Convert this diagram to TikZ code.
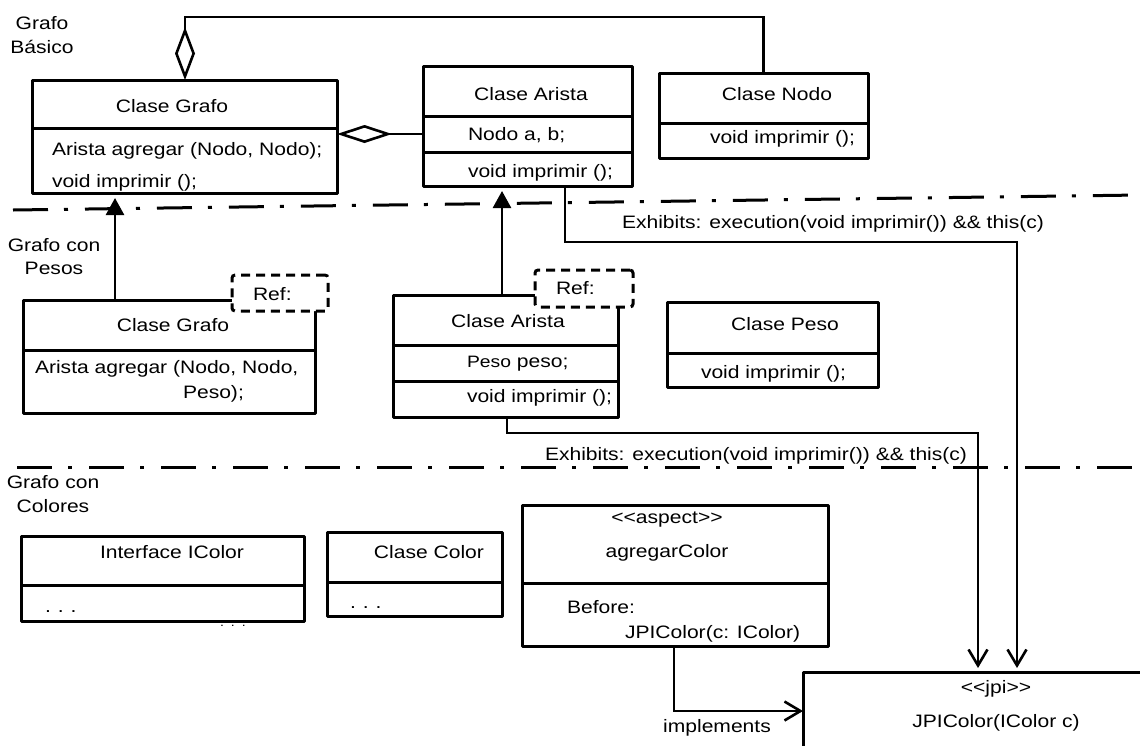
\documentclass[tikz,border=0pt]{standalone}
\usepackage{fontspec}
\setmainfont{Liberation Sans}[FakeStretch=1.17]
\usetikzlibrary{arrows.meta}
\newcommand\mainsz{\fontsize{18}{22}\selectfont}
\newcommand\stereosz{\fontsize{18}{22}\selectfont}
\newcommand\smallsz{\fontsize{16.5}{20}\selectfont}
\newcommand\dotsz{\fontsize{18}{22}\selectfont}
\newcommand\threedots{.\hspace{7pt}.\hspace{7pt}.}
\begin{document}
\begin{tikzpicture}[x=1pt,y=-1pt,
  every node/.style={inner sep=0pt,outer sep=0pt},
  umlbox/.style={draw,line width=3pt,anchor=north west,line join=round},
  rule/.style={line width=3pt},
  refbox/.style={draw,line width=3pt,dash pattern=on 9pt off 6pt,fill=white,
    rounded corners=3pt,anchor=north west},
  txt/.style={font=\mainsz,anchor=base},
  ltxt/.style={font=\mainsz,anchor=base west},
  sep/.style={line width=3pt,dash pattern=on 35pt off 16pt on 4pt off 17pt},
  link/.style={line width=2.6pt},
  inherit/.style={link,-{Triangle[length=17pt,width=18pt]},shorten >=5pt},
  call/.style={link,-{Straight Barb[length=16pt,width=19pt]}},
]
\useasboundingbox (0,0) rectangle (1140,745);

% layer separators
\coordinate (s1a) at (13,210);
\coordinate (s1b) at (1140,195);
\coordinate (s2a) at (17,467);
\coordinate (s2b) at (1140,467);
\draw[sep] (s1a) -- (s1b);
\draw[sep] (s2a) -- (s2b);

% ---------- Grafo Basico ----------
\node[txt] (lb1a) at (42,29) {Grafo};
\node[txt] (lb1b) at (42,53) {Básico};

\node[umlbox,minimum width=305pt,minimum height=113pt] (g1) at (32,80) {};
\draw[rule] (g1.west |- 0,128) -- (g1.east |- 0,128);
\node[txt] (g1t) at (172,112) {Clase Grafo};
\node[ltxt] (g1m1) at (52,155) {Arista agregar (Nodo, Nodo);};
\node[ltxt] (g1m2) at (52,187) {void imprimir ();};

\node[umlbox,minimum width=209pt,minimum height=120pt] (a1) at (423,66) {};
\draw[rule] (a1.west |- 0,116) -- (a1.east |- 0,116);
\draw[rule] (a1.west |- 0,152) -- (a1.east |- 0,152);
\node[txt] (a1t) at (531,100) {Clase Arista};
\node[ltxt] (a1f) at (468,140) {Nodo a, b;};
\node[ltxt] (a1m) at (468,177) {void imprimir ();};

\node[umlbox,minimum width=209pt,minimum height=85pt] (n1) at (659,73) {};
\draw[rule] (n1.west |- 0,123) -- (n1.east |- 0,123);
\node[txt] (n1t) at (777,100) {Clase Nodo};
\node[ltxt] (n1m) at (710,143) {void imprimir ();};

% aggregations
\coordinate (gx) at (185,0);
\coordinate (top) at (0,17);
\coordinate (ny) at (0,134);
\draw[link,-{Diamond[fill=white,length=53pt,width=20pt]}]
  (n1.north) -- (n1.north |- top) -- (gx |- top) -- (gx |- g1.north);
\draw[link,-{Diamond[fill=white,length=55pt,width=18pt]}]
  (a1.west |- ny) -- (g1.east |- ny);

% ---------- Grafo con Pesos ----------
\node[txt] (lb2a) at (54,251) {Grafo con};
\node[txt] (lb2b) at (54,274) {Pesos};

\node[umlbox,minimum width=292pt,minimum height=113pt] (g2) at (23,300) {};
\draw[rule] (g2.west |- 0,350) -- (g2.east |- 0,350);
\node[refbox,minimum width=96pt,minimum height=36pt] (r1) at (232,275) {};
\node[ltxt] (r1t) at (253,300) {Ref:};
\node[txt] (g2t) at (173,331) {Clase Grafo};
\node[ltxt] (g2m1) at (35,373) {Arista agregar (Nodo, Nodo,};
\node[ltxt] (g2m2) at (183,398) {Peso);};

\node[umlbox,minimum width=225pt,minimum height=122pt] (a2) at (393,295) {};
\draw[rule] (a2.west |- 0,345) -- (a2.east |- 0,345);
\draw[rule] (a2.west |- 0,381) -- (a2.east |- 0,381);
\node[refbox,minimum width=98pt,minimum height=37pt] (r2) at (535,270) {};
\node[ltxt] (r2t) at (556,294) {Ref:};
\node[txt] (a2t) at (508,327) {Clase Arista};
\node[ltxt] (a2f) at (467,367) {{\smallsz Peso} peso;};
\node[ltxt] (a2m) at (467,402) {void imprimir ();};

\node[umlbox,minimum width=211pt,minimum height=85pt] (p2) at (667,302) {};
\draw[rule] (p2.west |- 0,353) -- (p2.east |- 0,353);
\node[txt] (p2t) at (785,330) {Clase Peso};
\node[ltxt] (p2m) at (701,378) {void imprimir ();};

% refinements
\coordinate (ix1) at (115,0);
\coordinate (ix2) at (502,0);
\draw[inherit] (ix1 |- g2.north) -- (ix1 |- g1.south);
\draw[inherit] (ix2 |- a2.north) -- (ix2 |- a1.south);

% ---------- Grafo con Colores ----------
\node[txt] (lb3a) at (53,488) {Grafo con};
\node[txt] (lb3b) at (53,512) {Colores};

\node[umlbox,minimum width=283pt,minimum height=85pt] (ic) at (21,536) {};
\draw[rule] (ic.west |- 0,585) -- (ic.east |- 0,585);
\node[txt] (ict) at (172,558) {Interface IColor};
\node[ltxt,font=\dotsz] (icd) at (45,612) {\threedots};
\node[ltxt,font=\fontsize{12}{14}\selectfont] (icx) at (220,626) {\threedots};

\node[umlbox,minimum width=175pt,minimum height=84pt] (cc) at (327,532) {};
\draw[rule] (cc.west |- 0,582) -- (cc.east |- 0,582);
\node[txt] (cct) at (429,558) {Clase Color};
\node[ltxt,font=\dotsz] (ccd) at (350,608) {\threedots};

\node[umlbox,minimum width=306pt,minimum height=141pt] (asp) at (522,505) {};
\draw[rule] (asp.west |- 0,583) -- (asp.east |- 0,583);
\node[txt,font=\stereosz] (aspst) at (667,523) {<{}<aspect>{}>};
\node[txt] (aspt) at (667,557) {agregarColor};
\node[ltxt] (aspb) at (567,613) {Before:};
\node[ltxt] (aspp) at (625,638) {JPIColor(c: IColor)};

\node[umlbox,minimum width=400pt,minimum height=120pt] (jpi) at (803,672) {};
\node[txt,font=\stereosz] (jpist) at (996,693) {<{}<jpi>{}>};
\node[txt] (jpit) at (996,727) {JPIColor(IColor c)};

% exhibits connectors
\coordinate (e1a) at (565,242);
\coordinate (e1b) at (1017,242);
\draw[call,shorten >=4pt] (a1.south -| e1a) -- (e1a) -- (e1b) -- (e1b |- jpi.north);
\node[ltxt] (e1l) at (622,228) {Exhibits: execution(void imprimir()) \&\& this(c)};

\coordinate (e2a) at (507,433);
\coordinate (e2b) at (978,433);
\draw[call,shorten >=4pt] (a2.south -| e2a) -- (e2a) -- (e2b) -- (e2b |- jpi.north);
\node[ltxt] (e2l) at (545,460) {Exhibits: execution(void imprimir()) \&\& this(c)};

% implements connector
\coordinate (ia) at (674,711);
\draw[call] (asp.south -| ia) -- (ia) -- (jpi.west |- ia);
\node[txt] (il) at (717,732) {implements};

\end{tikzpicture}
\end{document}
